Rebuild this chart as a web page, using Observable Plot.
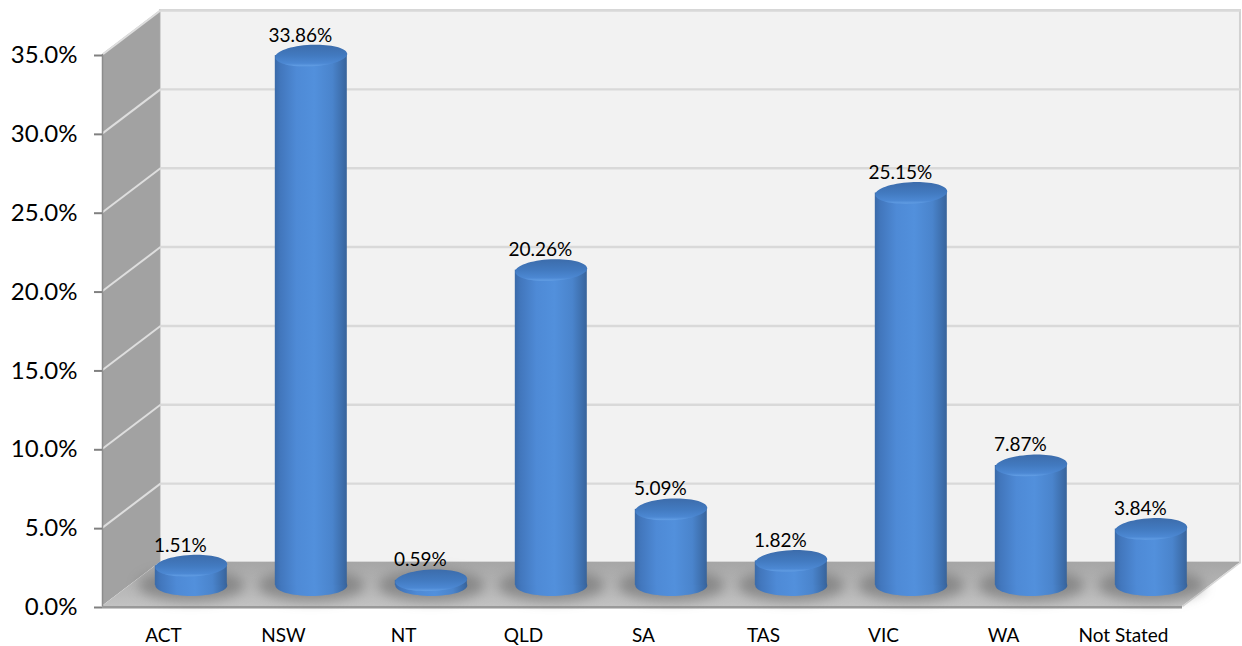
<!DOCTYPE html>
<html>
<head>
<meta charset="utf-8">
<script src="https://cdn.jsdelivr.net/npm/d3@7"></script>
<script src="https://cdn.jsdelivr.net/npm/@observablehq/plot@0.6"></script>
<style>
html,body{margin:0;padding:0;background:#fff}
svg{display:block}
</style>
</head>
<body>
<div id="chart"></div>
<script>
const categories = ["ACT","NSW","NT","QLD","SA","TAS","VIC","WA","Not Stated"];
const shares = [1.51,33.86,0.59,20.26,5.09,1.82,25.15,7.87,3.84];
const yTicks = [0,5,10,15,20,25,30,35];

// Oblique depth of the 3D box, in scale units
const depthX = 0.483, depthY = 2.79;
const yMax = 35, xMax = categories.length;
const barHalf = 0.3, barOffset = 0.24, baseLift = 1.33, topLift = 1.07;

const rows = categories.map((name, i) => ({
  name,
  value: shares[i],
  cx: i + 0.5 + barOffset,
  x1: i + 0.5 + barOffset - barHalf,
  x2: i + 0.5 + barOffset + barHalf,
  base: baseLift,
  top: shares[i] + topLift
}));

// Flattened ellipse symbol, optionally tilted
const flatEllipse = (ratio, tilt = 0) => ({
  draw(ctx, size) {
    const rx = Math.sqrt(size / Math.PI), ry = rx * ratio, k = 0.5523;
    const c = Math.cos(tilt), s = Math.sin(tilt);
    const X = (a, b) => a * c - b * s, Y = (a, b) => a * s + b * c;
    const curve = (a1, b1, a2, b2, a3, b3) =>
      ctx.bezierCurveTo(X(a1, b1), Y(a1, b1), X(a2, b2), Y(a2, b2), X(a3, b3), Y(a3, b3));
    ctx.moveTo(X(-rx, 0), Y(-rx, 0));
    curve(-rx, -ry * k, -rx * k, -ry, 0, -ry);
    curve(rx * k, -ry, rx, -ry * k, rx, 0);
    curve(rx, ry * k, rx * k, ry, 0, ry);
    curve(-rx * k, ry, -rx, ry * k, -rx, 0);
    ctx.closePath();
  }
});

const defs = () => {
  const d = d3.create("svg:defs");
  const grad = (id, vertical, stops) => {
    const g = d.append("linearGradient").attr("id", id)
      .attr("x1", 0).attr("y1", 0)
      .attr("x2", vertical ? 0 : 1).attr("y2", vertical ? 1 : 0);
    stops.forEach(([o, c]) => g.append("stop").attr("offset", o).attr("stop-color", c));
  };
  grad("cylBody", false, [[0,"#3a6aa8"],[0.08,"#4277bd"],[0.3,"#4e8ad6"],[0.55,"#5290dc"],[0.8,"#4a84cc"],[0.95,"#3c6ca9"],[1,"#386399"]]);
  grad("cylCap", true, [[0,"#3c6cab"],[0.5,"#427ac0"],[0.85,"#4c88d3"],[0.96,"#5f9be2"],[1,"#5a96dd"]]);
  grad("floorFill", true, [[0,"#a6a6a6"],[1,"#c2c2c2"]]);
  return d.node();
};

const plot = Plot.plot({
  width: 1242,
  height: 646,
  marginLeft: 102,
  marginRight: 60,
  marginTop: 54,
  marginBottom: 40,
  style: {fontFamily: "Lato, sans-serif", background: "#fff", color: "#000"},
  x: {domain: [0, xMax]},
  y: {domain: [0, yMax]},
  marks: [
    defs,
    // back wall
    Plot.rect([0], {x1: depthX, x2: xMax + depthX, y1: depthY, y2: yMax + depthY, fill: "#f2f2f2", stroke: "#d2d2d2", strokeWidth: 2}),
    // back wall grid
    Plot.link(yTicks, {x1: depthX, x2: xMax + depthX, y1: d => d + depthY, y2: d => d + depthY, stroke: "#d9d9d9", strokeWidth: 2.4}),
    // side wall
    Plot.areaY([0, 1], {x: t => t * depthX, y1: t => t * depthY, y2: t => yMax + t * depthY, fill: "#a2a2a2"}),
    Plot.link(yTicks, {x1: 0, x2: depthX, y1: d => d, y2: d => d + depthY, stroke: "#dedede", strokeWidth: 2}),
    // floor
    Plot.areaX([0, 1], {y: t => t * depthY, x1: t => t * depthX, x2: t => xMax + t * depthX, fill: "url(#floorFill)"}),
    Plot.rectY([0], {x1: 0, x2: xMax, y1: 0, y2: -0.16, fill: "#999999"}),
    Plot.link([0], {x1: xMax, x2: xMax + depthX, y1: 0, y2: depthY, stroke: "#d8d8d8", strokeWidth: 1.5}),
    // shadows
    Plot.dot(rows, {x: "cx", y: "base", r: 53, symbol: flatEllipse(0.3), fill: "#5e5e5e", fillOpacity: 0.5, imageFilter: "blur(6px)"}),
    // cylinders
    Plot.dot(rows, {x: "cx", y: "base", r: 36, symbol: flatEllipse(0.29), fill: "url(#cylBody)"}),
    Plot.rect(rows, {x1: "x1", x2: "x2", y1: "base", y2: "top", fill: "url(#cylBody)"}),
    Plot.dot(rows, {x: "cx", y: "top", r: 36, symbol: flatEllipse(0.3, -0.05), fill: "url(#cylCap)"}),
    // value labels
    Plot.text(rows, {x: "cx", y: "value", text: d => d.value.toFixed(2) + "%", dx: -11, dy: -37, fontSize: 19, fill: "#000"}),
    // axes
    Plot.ruleX([0], {y1: 0, y2: yMax, stroke: "#8c8c8c", strokeWidth: 1.5}),
    Plot.axisY({ticks: yTicks, tickSize: 8, tickPadding: 17, stroke: "#808080", strokeWidth: 2, fill: "#000", fontSize: 24, dy: 1, tickFormat: d => d.toFixed(1) + "%", label: null}),
    Plot.axisX(categories.map((_, i) => i + 0.5), {tickSize: 0, tickPadding: 22, fontSize: 19, dx: 1, fill: "#000", tickFormat: d => categories[d - 0.5], label: null})
  ]
});
document.getElementById("chart").append(plot);
</script>
</body>
</html>
